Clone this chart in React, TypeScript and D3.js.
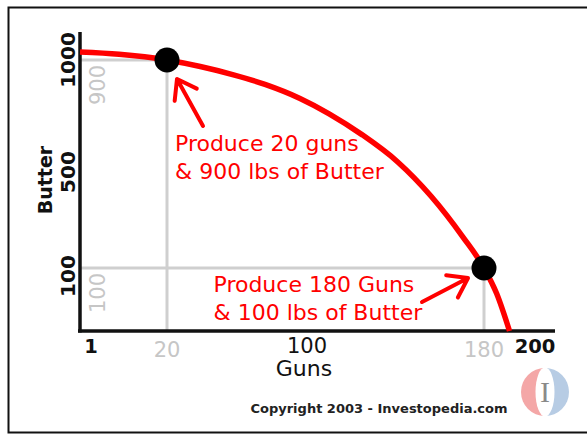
import React from "react";
import * as d3 from "d3";

// ---- data ----
const guns = [0, 9, 20, 39, 58, 76, 96, 110, 125, 141, 156, 170.5, 180, 185, 190];
const butter = [1000, 972, 900, 875, 843, 806, 752, 693, 612, 508, 377, 219, 100, 59, 0];

const xTickValues = [1, 100, 200];
const xTickLabels = ["1", "100", "200"];
const yTickValues = [1000, 500, 100];
const yTickLabels = ["1000", "500", "100"];

const pointGuns = [20, 180];
const pointButter = [900, 100];
const pointLines = [
  ["Produce 20 guns", "& 900 lbs of Butter"],
  ["Produce 180 Guns", "& 100 lbs of Butter"],
];

const xTitle = "Guns";
const yTitle = "Butter";
const credit = "Copyright 2003 - Investopedia.com";

// ---- layout / style ----
const W = 587;
const H = 438;
const RED = "#ff0000";
const GRAY = "#cfcfcf";
const GRAY_TEXT = "#c6c6c6";
const FONT = "'DejaVu Sans', Verdana, sans-serif";

const x = d3.scaleLinear().domain([0, 20, 100, 180, 200]).range([80, 167, 307, 484, 535]);
const y = d3.scaleLinear().domain([0, 100, 900, 1000]).range([331, 268, 60, 52]);

const axisX0 = 78;
const axisX1 = 555;
const axisYTop = 32;

const labelAnchors = [
  { x: 175, y: 151 },
  { x: 213.5, y: 292 },
];
const arrowOffsets = [
  { tail: [36, 66], tip: [10, 19] },
  { tail: [-62, 34], tip: [-16, 10] },
];

function arrowPath(tx: number, ty: number, hx: number, hy: number) {
  const ang = Math.atan2(ty - hy, tx - hx);
  const L = 22;
  const spread = (35 * Math.PI) / 180;
  const a1 = [hx + L * Math.cos(ang + spread), hy + L * Math.sin(ang + spread)];
  const a2 = [hx + L * Math.cos(ang - spread), hy + L * Math.sin(ang - spread)];
  const p = d3.path();
  p.moveTo(tx, ty);
  p.lineTo(hx, hy);
  p.moveTo(a1[0], a1[1]);
  p.lineTo(hx, hy);
  p.lineTo(a2[0], a2[1]);
  return p.toString();
}

export default function App() {
  const pts = guns.map((g, i) => [g, butter[i]] as [number, number]);
  const line = d3
    .line<[number, number]>()
    .x((d) => x(d[0]))
    .y((d) => y(d[1]))
    .curve(d3.curveMonotoneX);

  const logoCx = 545;
  const logoCy = 392;
  const logoR = 24;
  const leftHalf = d3.arc()({
    innerRadius: 0,
    outerRadius: logoR,
    startAngle: Math.PI,
    endAngle: 2 * Math.PI,
  }) as string;
  const rightHalf = d3.arc()({
    innerRadius: 0,
    outerRadius: logoR,
    startAngle: 0,
    endAngle: Math.PI,
  }) as string;

  return (
    <svg
      width={W}
      height={H}
      style={{ position: "absolute", left: 0, top: 0, background: "#fff" }}
    >
      <rect x={0} y={0} width={W} height={H} fill="#fff" />
      <rect x={8.5} y={7.5} width={W + 10} height={425} fill="none" stroke="#111" strokeWidth={2} />

      {/* guide lines */}
      {pointGuns.map((g, i) => (
        <g key={"guide" + i} stroke={GRAY} strokeWidth={3} fill="none">
          <line x1={x(0)} x2={x(g)} y1={y(pointButter[i])} y2={y(pointButter[i])} />
          <line x1={x(g)} x2={x(g)} y1={y(pointButter[i])} y2={y(0)} />
        </g>
      ))}

      {/* axes */}
      <line x1={x(0)} x2={x(0)} y1={axisYTop} y2={y(0) + 1.5} stroke="#111" strokeWidth={3.5} />
      <line x1={axisX0} x2={axisX1} y1={y(0)} y2={y(0)} stroke="#111" strokeWidth={3.5} />

      {/* curve */}
      <path d={line(pts) as string} fill="none" stroke={RED} strokeWidth={5.5} />

      {/* points */}
      {pointGuns.map((g, i) => (
        <circle key={"pt" + i} cx={x(g)} cy={y(pointButter[i])} r={12.5} fill="#000" />
      ))}

      {/* arrows */}
      {pointGuns.map((g, i) => {
        const px = x(g);
        const py = y(pointButter[i]);
        const o = arrowOffsets[i];
        return (
          <path
            key={"arr" + i}
            d={arrowPath(px + o.tail[0], py + o.tail[1], px + o.tip[0], py + o.tip[1])}
            fill="none"
            stroke={RED}
            strokeWidth={4}
            strokeLinecap="round"
            strokeLinejoin="round"
          />
        );
      })}

      {/* annotation text */}
      {pointLines.map((lines, i) => (
        <text key={"lab" + i} fill={RED} fontFamily={FONT} fontSize={22}>
          {lines.map((t, j) => (
            <tspan key={j} x={labelAnchors[i].x} y={labelAnchors[i].y + j * 27.5}>
              {t}
            </tspan>
          ))}
        </text>
      ))}

      {/* gray point value labels on axes */}
      {pointGuns.map((g, i) => (
        <text
          key={"gx" + i}
          x={x(g)}
          y={357}
          textAnchor="middle"
          fill={GRAY_TEXT}
          fontFamily={FONT}
          fontSize={21}
        >
          {String(g)}
        </text>
      ))}
      {pointButter.map((b, i) => (
        <text
          key={"gy" + i}
          transform={`translate(105,${y(b) + 5}) rotate(-90)`}
          textAnchor="end"
          fill={GRAY_TEXT}
          fontFamily={FONT}
          fontSize={21}
        >
          {String(b)}
        </text>
      ))}

      {/* black tick labels */}
      {xTickValues.map((v, i) => (
        <text
          key={"xt" + i}
          x={x(v)}
          y={353}
          textAnchor={i === 0 ? "start" : "middle"}
          fill="#111"
          fontFamily={FONT}
          fontWeight={i === 1 ? "normal" : "bold"}
          fontSize={i === 1 ? 21 : 19.5}
        >
          {xTickLabels[i]}
        </text>
      ))}
      {yTickValues.map((v, i) => (
        <text
          key={"yt" + i}
          transform={`translate(75,${y(v) + 8}) rotate(-90)`}
          textAnchor="middle"
          fill="#111"
          fontFamily={FONT}
          fontWeight="bold"
          fontSize={20}
        >
          {yTickLabels[i]}
        </text>
      ))}

      {/* axis titles */}
      <text x={304} y={376} textAnchor="middle" fill="#111" fontFamily={FONT} fontSize={22}>
        {xTitle}
      </text>
      <text
        transform="translate(52,180) rotate(-90)"
        textAnchor="middle"
        fill="#111"
        fontFamily={FONT}
        fontWeight="bold"
        fontSize={19}
      >
        {yTitle}
      </text>

      {/* credit */}
      <text x={379} y={413} textAnchor="middle" fill="#222" fontFamily={FONT} fontWeight="bold" fontSize={13}>
        {credit}
      </text>

      {/* logo */}
      <g transform={`translate(${logoCx},${logoCy})`}>
        <path d={leftHalf} fill="#f4a7a7" />
        <path d={rightHalf} fill="#b7cce4" />
        <ellipse cx={0} cy={0} rx={9.5} ry={logoR + 0.5} fill="#fff" />
        <text
          x={0}
          y={10}
          textAnchor="middle"
          fill="#8a8a8a"
          fontFamily="'Liberation Serif', serif"
          fontSize={30}
        >
          I
        </text>
      </g>
    </svg>
  );
}
